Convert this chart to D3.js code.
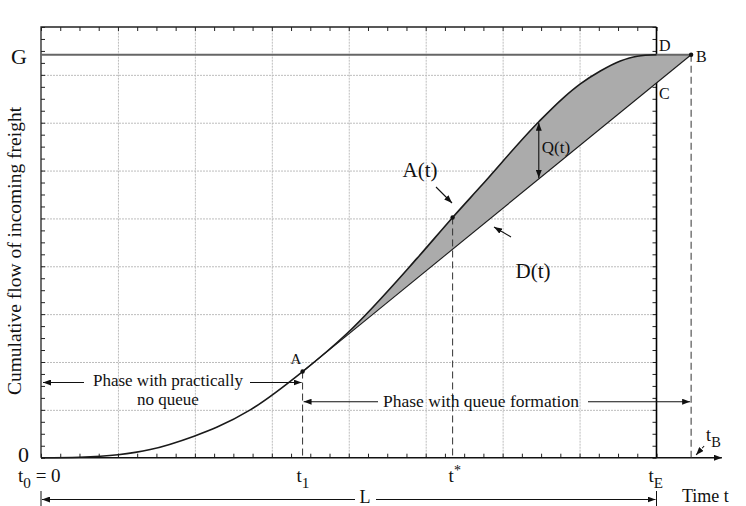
<!DOCTYPE html>
<html>
<head>
<meta charset="utf-8">
<script src="https://cdn.jsdelivr.net/npm/d3@7"></script>
<style>
  body { margin: 0; background: #fff; }
  text { font-family: "Liberation Serif", "DejaVu Serif", serif; fill: #111; }
</style>
</head>
<body>
<div class="chart"></div>
<script>
// ======= CUMULATIVE ARRIVALS / DEPARTURES (QUEUE DIAGRAM) =======

// cumulative arrival curve A(t) (grid units)
const arrivalT = [0, 0.5, 1.0, 1.42, 1.99, 2.29, 2.72, 3.40, 3.98, 4.89, 5.35, 5.71, 6.47, 6.79, 7.01, 7.27, 7.53, 7.75, 8.0]
const arrivalQ = [0, 0.01, 0.06, 0.17, 0.45, 0.64, 1.00, 1.80, 2.60, 4.17, 5.02, 5.66, 7.02, 7.52, 7.81, 8.08, 8.29, 8.39, 8.42]

// departure line D(t), from A to B
const departureT = [3.40, 8.45]
const departureQ = [1.80, 8.42]

// total freight G and key instants
const capacityG = 8.42
const keyTimes = [0, 3.40, 5.35, 8.0, 8.45]   // t0, t1, t*, tE, tB
const queueAt = 6.47                           // where Q(t) is measured

const xScale = d3.scaleLinear().domain([0, 8]).range([41, 656.5])
const yScale = d3.scaleLinear().domain([0, 9]).range([457.7, 27])
const [t0, t1, tStar, tE, tB] = keyTimes

const dAt = t => departureQ[0] + (t - departureT[0]) *
  (departureQ[1] - departureQ[0]) / (departureT[1] - departureT[0])

const svg = d3.select('.chart')
  .append('svg')
    .attr('width', 746)
    .attr('height', 506)

svg.append('defs').append('marker')
    .attr('id', 'head')
    .attr('viewBox', '0 0 8 6')
    .attr('refX', 8)
    .attr('refY', 3)
    .attr('markerWidth', 8)
    .attr('markerHeight', 6)
    .attr('markerUnits', 'userSpaceOnUse')
    .attr('orient', 'auto-start-reverse')
  .append('path')
    .attr('d', 'M0,0L8,3L0,6Z')
    .attr('fill', '#111')

// grid
const plotH = yScale(0) - yScale(9)
const plotW = xScale(8) - xScale(0)
svg.append('g')
    .attr('transform', `translate(0, ${yScale(0)})`)
    .call(d3.axisBottom(xScale).tickValues(d3.range(1, 8)).tickSize(-plotH).tickFormat(''))
    .call(g => g.select('.domain').remove())
    .call(g => g.selectAll('line').attr('stroke', '#bdbdbd').attr('stroke-dasharray', '2,1'))
svg.append('g')
    .attr('transform', `translate(${xScale(0)}, 0)`)
    .call(d3.axisLeft(yScale).tickValues(d3.range(1, 9)).tickSize(-plotW).tickFormat(''))
    .call(g => g.select('.domain').remove())
    .call(g => g.selectAll('line').attr('stroke', '#bdbdbd').attr('stroke-dasharray', '2,1'))

// minor ticks on all four sides, pointing inwards
const xMinor = d3.range(0, 8.001, 0.25)
const yMinor = d3.range(0, 9.001, 0.25)
const tickStyle = g => {
  g.select('.domain').remove()
  g.selectAll('line').attr('stroke', '#222')
}
svg.append('g').attr('transform', `translate(0, ${yScale(0)})`)
  .call(d3.axisBottom(xScale).tickValues(xMinor).tickSize(-4).tickFormat('')).call(tickStyle)
svg.append('g').attr('transform', `translate(0, ${yScale(9)})`)
  .call(d3.axisTop(xScale).tickValues(xMinor).tickSize(-4).tickFormat('')).call(tickStyle)
svg.append('g').attr('transform', `translate(${xScale(0)}, 0)`)
  .call(d3.axisLeft(yScale).tickValues(yMinor).tickSize(-4).tickFormat('')).call(tickStyle)
svg.append('g').attr('transform', `translate(${xScale(8)}, 0)`)
  .call(d3.axisRight(yScale).tickValues(yMinor).tickSize(-4).tickFormat('')).call(tickStyle)

// frame
svg.append('path')
    .attr('d', `M${xScale(0)},${yScale(0)}V${yScale(9)}H${xScale(8)}`)
    .attr('fill', 'none').attr('stroke', '#222').attr('stroke-width', 1.3)
svg.append('line')
    .attr('x1', xScale(tE)).attr('x2', xScale(tE))
    .attr('y1', yScale(9)).attr('y2', yScale(0))
    .attr('stroke', '#000').attr('stroke-width', 1.6)
// time axis with arrow
svg.append('line')
    .attr('x1', xScale(0)).attr('x2', xScale(8.85))
    .attr('y1', yScale(0)).attr('y2', yScale(0))
    .attr('stroke', '#111').attr('stroke-width', 1.4)
    .attr('marker-end', 'url(#head)')

// queue area between A(t) and D(t)
const upper = arrivalT.map((t, i) => [t, arrivalQ[i]])
  .filter(d => d[0] >= t1)
  .concat([[tB, capacityG]])
svg.append('path')
    .datum(upper)
    .attr('fill', '#ababab')
    .attr('d', d3.area()
      .x(d => xScale(d[0]))
      .y0(d => yScale(dAt(d[0])))
      .y1(d => yScale(d[1]))
      .curve(d3.curveMonotoneX))

// G level
svg.append('line')
    .attr('x1', xScale(0)).attr('x2', xScale(tB))
    .attr('y1', yScale(capacityG)).attr('y2', yScale(capacityG))
    .attr('stroke', '#666').attr('stroke-width', 2)

// A(t)
svg.append('path')
    .datum(arrivalT.map((t, i) => [t, arrivalQ[i]]))
    .attr('fill', 'none')
    .attr('stroke', '#1a1a1a')
    .attr('stroke-width', 1.6)
    .attr('d', d3.line().x(d => xScale(d[0])).y(d => yScale(d[1])).curve(d3.curveMonotoneX))

// D(t)
svg.append('line')
    .attr('x1', xScale(departureT[0])).attr('y1', yScale(departureQ[0]))
    .attr('x2', xScale(departureT[1])).attr('y2', yScale(departureQ[1]))
    .attr('stroke', '#1a1a1a').attr('stroke-width', 1.1)

// dashed drop lines
const qStar = arrivalQ[arrivalT.indexOf(tStar)]
const drops = [[t1, departureQ[0]], [tStar, qStar], [tB, capacityG]]
svg.selectAll('.drop')
  .data(drops)
  .enter().append('line')
    .attr('x1', d => xScale(d[0])).attr('x2', d => xScale(d[0]))
    .attr('y1', d => yScale(d[1])).attr('y2', yScale(0))
    .attr('stroke', '#333').attr('stroke-dasharray', '7,4')

svg.selectAll('.pt')
  .data(drops)
  .enter().append('circle')
    .attr('cx', d => xScale(d[0])).attr('cy', d => yScale(d[1]))
    .attr('r', 2.2).attr('fill', '#111')

// Q(t) double arrow
const qTop = arrivalQ[arrivalT.indexOf(queueAt)]
svg.append('line')
    .attr('x1', xScale(queueAt)).attr('x2', xScale(queueAt))
    .attr('y1', yScale(qTop) + 1).attr('y2', yScale(dAt(queueAt)) - 1)
    .attr('stroke', '#111').attr('stroke-width', 1.1)
    .attr('marker-start', 'url(#head)').attr('marker-end', 'url(#head)')

// helper for arrows
const arrow = (x1, y1, x2, y2, opts = {}) => svg.append('line')
    .attr('x1', x1).attr('y1', y1).attr('x2', x2).attr('y2', y2)
    .attr('stroke', '#111').attr('stroke-width', 1.1)
    .attr('stroke-dasharray', opts.dash || null)
    .attr('marker-end', 'url(#head)')

const text = (x, y, s, size, anchor = 'start') => svg.append('text')
    .attr('x', x).attr('y', y)
    .attr('font-size', size)
    .attr('text-anchor', anchor)
    .text(s)

// subscripted labels
const subLabel = (x, y, main, sub, rest, size = 19) => {
  const t = svg.append('text').attr('x', x).attr('y', y).attr('font-size', size)
  t.append('tspan').text(main)
  t.append('tspan').attr('dy', 6).attr('font-size', size * 0.8).text(sub)
  if (rest) t.append('tspan').attr('dy', -6).text(rest)
  return t
}

// axis labels
text(27, 64, 'G', 22, 'end')
text(29, 462, '0', 22, 'end')
subLabel(18, 482, 't', '0', ' = 0')
subLabel(xScale(t1) - 6, 482, 't', '1')
const ts = svg.append('text').attr('x', xScale(tStar) - 4).attr('y', 482).attr('font-size', 19)
ts.append('tspan').text('t')
ts.append('tspan').attr('dy', -7).attr('font-size', 14).text('*')
subLabel(xScale(tE) - 8, 482, 't', 'E')
subLabel(xScale(tB) + 15, 441, 't', 'B', null, 18)
arrow(xScale(tB) + 13, 446, xScale(tB) + 5, 455, { dash: '3,2' })
text(682, 502, 'Time t', 18)

svg.append('text')
    .attr('transform', 'translate(21, 251) rotate(-90)')
    .attr('text-anchor', 'middle')
    .attr('font-size', 19.5)
    .text('Cumulative flow of incoming freight')

// point labels
text(296, 364, 'A', 15, 'middle')
text(696, 62, 'B', 16)
text(659, 99, 'C', 16)
text(659, 51, 'D', 16)
text(420, 177, 'A(t)', 21, 'middle')
arrow(436, 187, 452, 203)
text(533, 278, 'D(t)', 21, 'middle')
arrow(511, 237, 494, 227)
text(556, 153, 'Q(t)', 17, 'middle')

// phase annotations
text(168, 386, 'Phase with practically', 17, 'middle')
text(168, 405, 'no queue', 17, 'middle')
arrow(84, 382.5, xScale(t0) + 2, 382.5)
arrow(250, 382.5, xScale(t1) - 1, 382.5)
text(481, 407, 'Phase with queue formation', 17.5, 'middle')
arrow(378, 401.7, xScale(t1) + 1, 401.7)
arrow(588, 401.7, xScale(tB) - 1, 401.7)

// total span L
text(365, 503, 'L', 18, 'middle')
arrow(355, 499.5, xScale(t0) + 1, 499.5)
arrow(376, 499.5, xScale(tE) - 1, 499.5)
svg.selectAll('.lend')
  .data([t0, tE])
  .enter().append('line')
    .attr('x1', d => xScale(d)).attr('x2', d => xScale(d))
    .attr('y1', 491).attr('y2', 506)
    .attr('stroke', '#111')
</script>
</body>
</html>
